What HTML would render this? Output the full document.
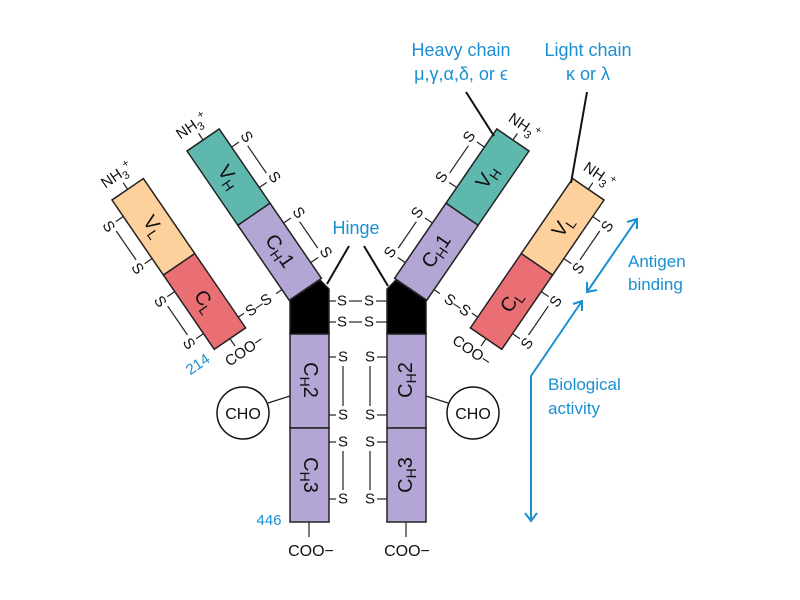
<!DOCTYPE html>
<html><head><meta charset="utf-8"><style>
html,body{margin:0;padding:0;background:#fff;}
svg{display:block;}
text{font-family:"Liberation Sans",sans-serif;fill:#111;}
.b{fill:#1a8fd2;}
.lab{font-size:20px;}
.s{font-size:15px;}
</style></head><body>
<svg width="800" height="600" viewBox="0 0 800 600" xmlns="http://www.w3.org/2000/svg">
<defs>
<g id="light">
  <rect x="0" y="0" width="38" height="91" fill="#fdd09c" stroke="#222" stroke-width="1.5"/>
  <rect x="0" y="91" width="38" height="90" fill="#ea6f74" stroke="#222" stroke-width="1.5"/>
  <g stroke="#222" stroke-width="1.2">
    <line x1="19" y1="0" x2="19" y2="-8"/>
    <line x1="19" y1="181" x2="19" y2="190"/>
    <line x1="0" y1="20" x2="-9" y2="20"/><line x1="0" y1="71" x2="-9" y2="71"/>
    <line x1="0" y1="111" x2="-9" y2="111"/><line x1="0" y1="162" x2="-9" y2="162"/>
    <line x1="-14" y1="28" x2="-14" y2="63"/><line x1="-14" y1="119" x2="-14" y2="154"/>
    <line x1="38" y1="168" x2="45" y2="168"/>
  </g>
</g>
<g id="heavy">
  <rect x="0" y="0" width="39" height="90" fill="#5fb8ad" stroke="#222" stroke-width="1.5"/>
  <rect x="0" y="90" width="39" height="91" fill="#b3a5d4" stroke="#222" stroke-width="1.5"/>
  <g stroke="#222" stroke-width="1.2">
    <line x1="19.5" y1="0" x2="19.5" y2="-8"/>
    <line x1="39" y1="22" x2="48" y2="22"/><line x1="39" y1="71" x2="48" y2="71"/>
    <line x1="39" y1="114" x2="48" y2="114"/><line x1="39" y1="162" x2="48" y2="162"/>
    <line x1="53" y1="30" x2="53" y2="63"/><line x1="53" y1="122" x2="53" y2="154"/>
    <line x1="0" y1="168" x2="-7" y2="168"/>
  </g>
</g>
</defs>

<!-- Left light chain -->
<g transform="translate(112,200) rotate(-34.4)">
  <use href="#light"/>
  <text class="lab" transform="translate(19,45) rotate(90)" text-anchor="middle" dominant-baseline="central">V<tspan font-size="14" dy="5">L</tspan></text>
  <text class="lab" transform="translate(19,136) rotate(90)" text-anchor="middle" dominant-baseline="central">C<tspan font-size="14" dy="5">L</tspan></text>
  <text class="s" transform="translate(-18,20) rotate(90)" text-anchor="middle" dominant-baseline="central">S</text>
  <text class="s" transform="translate(-18,71) rotate(90)" text-anchor="middle" dominant-baseline="central">S</text>
  <text class="s" transform="translate(-18,111) rotate(90)" text-anchor="middle" dominant-baseline="central">S</text>
  <text class="s" transform="translate(-18,162) rotate(90)" text-anchor="middle" dominant-baseline="central">S</text>
  <text font-size="15" x="18" y="-13" text-anchor="middle">NH<tspan font-size="11" dy="4">3</tspan><tspan font-size="11" dy="-10">+</tspan></text>
  <text font-size="15" x="24" y="204" text-anchor="middle">COO−</text>
  <text class="b" font-size="15" x="-22" y="189" text-anchor="middle">214</text>
</g>
<!-- Left heavy arm -->
<g transform="translate(187,151) rotate(-34.4)">
  <use href="#heavy"/>
  <text class="lab" transform="translate(19.5,45) rotate(90)" text-anchor="middle" dominant-baseline="central">V<tspan font-size="14" dy="5">H</tspan></text>
  <text class="lab" transform="translate(19.5,135) rotate(90)" text-anchor="middle" dominant-baseline="central">C<tspan font-size="14" dy="5">H</tspan><tspan dy="-5">1</tspan></text>
  <text class="s" transform="translate(57,22) rotate(90)" text-anchor="middle" dominant-baseline="central">S</text>
  <text class="s" transform="translate(57,71) rotate(90)" text-anchor="middle" dominant-baseline="central">S</text>
  <text class="s" transform="translate(57,114) rotate(90)" text-anchor="middle" dominant-baseline="central">S</text>
  <text class="s" transform="translate(57,162) rotate(90)" text-anchor="middle" dominant-baseline="central">S</text>
  <text class="s" x="-28" y="168" text-anchor="middle" dominant-baseline="central">S–S</text>
  <text font-size="15" x="18" y="-13" text-anchor="middle">NH<tspan font-size="11" dy="4">3</tspan><tspan font-size="11" dy="-10">+</tspan></text>
</g>

<!-- Right side mirrored -->
<g transform="translate(716,0) scale(-1,1)">
  <g transform="translate(112,200) rotate(-34.4)">
    <use href="#light"/>
    <text class="lab" transform="translate(19,45) scale(-1,1) rotate(-90)" text-anchor="middle" dominant-baseline="central">V<tspan font-size="14" dy="5">L</tspan></text>
    <text class="lab" transform="translate(19,136) scale(-1,1) rotate(-90)" text-anchor="middle" dominant-baseline="central">C<tspan font-size="14" dy="5">L</tspan></text>
    <text class="s" transform="translate(-18,20) scale(-1,1) rotate(-90)" text-anchor="middle" dominant-baseline="central">S</text>
    <text class="s" transform="translate(-18,71) scale(-1,1) rotate(-90)" text-anchor="middle" dominant-baseline="central">S</text>
    <text class="s" transform="translate(-18,111) scale(-1,1) rotate(-90)" text-anchor="middle" dominant-baseline="central">S</text>
    <text class="s" transform="translate(-18,162) scale(-1,1) rotate(-90)" text-anchor="middle" dominant-baseline="central">S</text>
    <text font-size="15" transform="translate(18,-13) scale(-1,1)" text-anchor="middle">NH<tspan font-size="11" dy="4">3</tspan><tspan font-size="11" dy="-10">+</tspan></text>
    <text font-size="15" transform="translate(24,204) scale(-1,1)" text-anchor="middle">COO−</text>
  </g>
  <g transform="translate(187,151) rotate(-34.4)">
    <use href="#heavy"/>
    <text class="lab" transform="translate(19.5,45) scale(-1,1) rotate(-90)" text-anchor="middle" dominant-baseline="central">V<tspan font-size="14" dy="5">H</tspan></text>
    <text class="lab" transform="translate(19.5,135) scale(-1,1) rotate(-90)" text-anchor="middle" dominant-baseline="central">C<tspan font-size="14" dy="5">H</tspan><tspan dy="-5">1</tspan></text>
    <text class="s" transform="translate(57,22) scale(-1,1) rotate(-90)" text-anchor="middle" dominant-baseline="central">S</text>
    <text class="s" transform="translate(57,71) scale(-1,1) rotate(-90)" text-anchor="middle" dominant-baseline="central">S</text>
    <text class="s" transform="translate(57,114) scale(-1,1) rotate(-90)" text-anchor="middle" dominant-baseline="central">S</text>
    <text class="s" transform="translate(57,162) scale(-1,1) rotate(-90)" text-anchor="middle" dominant-baseline="central">S</text>
    <text class="s" transform="translate(-28,168) scale(-1,1)" text-anchor="middle" dominant-baseline="central">S–S</text>
    <text font-size="15" transform="translate(18,-13) scale(-1,1)" text-anchor="middle">NH<tspan font-size="11" dy="4">3</tspan><tspan font-size="11" dy="-10">+</tspan></text>
  </g>
</g>

<!-- Stems -->
<g stroke="#222" stroke-width="1.5">
  <rect x="290" y="333" width="39" height="95" fill="#b3a5d4"/>
  <rect x="290" y="428" width="39" height="94" fill="#b3a5d4"/>
  <rect x="387" y="333" width="39" height="95" fill="#b3a5d4"/>
  <rect x="387" y="428" width="39" height="94" fill="#b3a5d4"/>
  <polygon points="290,300 320,280 329,289 329,334 290,334" fill="#000"/>
  <polygon points="426,300 396,280 387,289 387,334 426,334" fill="#000"/>
</g>
<text class="lab" transform="translate(310,380) rotate(90)" text-anchor="middle" dominant-baseline="central">C<tspan font-size="14" dy="5">H</tspan><tspan dy="-5">2</tspan></text>
<text class="lab" transform="translate(310,475) rotate(90)" text-anchor="middle" dominant-baseline="central">C<tspan font-size="14" dy="5">H</tspan><tspan dy="-5">3</tspan></text>
<text class="lab" transform="translate(406,380) rotate(-90)" text-anchor="middle" dominant-baseline="central">C<tspan font-size="14" dy="5">H</tspan><tspan dy="-5">2</tspan></text>
<text class="lab" transform="translate(406,475) rotate(-90)" text-anchor="middle" dominant-baseline="central">C<tspan font-size="14" dy="5">H</tspan><tspan dy="-5">3</tspan></text>

<!-- Hinge & stem disulfides -->
<g stroke="#222" stroke-width="1.2">
  <line x1="329" y1="301" x2="336" y2="301"/><line x1="349" y1="301" x2="362" y2="301"/><line x1="376" y1="301" x2="387" y2="301"/>
  <line x1="329" y1="322" x2="336" y2="322"/><line x1="349" y1="322" x2="362" y2="322"/><line x1="376" y1="322" x2="387" y2="322"/>
  <line x1="329" y1="357" x2="336" y2="357"/><line x1="329" y1="415" x2="336" y2="415"/>
  <line x1="329" y1="442" x2="336" y2="442"/><line x1="329" y1="499" x2="336" y2="499"/>
  <line x1="377" y1="357" x2="387" y2="357"/><line x1="377" y1="415" x2="387" y2="415"/>
  <line x1="377" y1="442" x2="387" y2="442"/><line x1="377" y1="499" x2="387" y2="499"/>
  <line x1="343" y1="366" x2="343" y2="406"/><line x1="343" y1="451" x2="343" y2="490"/>
  <line x1="370" y1="366" x2="370" y2="406"/><line x1="370" y1="451" x2="370" y2="490"/>
  <line x1="309" y1="522" x2="309" y2="537"/><line x1="406" y1="522" x2="406" y2="537"/>
  <line x1="268" y1="403" x2="290" y2="396"/><line x1="426" y1="396" x2="448" y2="403"/>
</g>
<g class="s" text-anchor="middle" dominant-baseline="central" font-size="15">
  <text x="342" y="301">S</text><text x="369" y="301">S</text>
  <text x="342" y="322">S</text><text x="369" y="322">S</text>
  <text x="343" y="357">S</text><text x="343" y="415">S</text>
  <text x="343" y="442">S</text><text x="343" y="499">S</text>
  <text x="370" y="357">S</text><text x="370" y="415">S</text>
  <text x="370" y="442">S</text><text x="370" y="499">S</text>
</g>
<circle cx="243" cy="413" r="26" fill="#fff" stroke="#111" stroke-width="1.5"/>
<circle cx="473" cy="413" r="26" fill="#fff" stroke="#111" stroke-width="1.5"/>
<text font-size="16" x="243" y="419" text-anchor="middle">CHO</text>
<text font-size="16" x="473" y="419" text-anchor="middle">CHO</text>
<text font-size="16" x="311" y="556" text-anchor="middle">COO−</text>
<text font-size="16" x="407" y="556" text-anchor="middle">COO−</text>
<text class="b" font-size="15" x="269" y="525" text-anchor="middle">446</text>

<!-- Hinge label -->
<text class="b" font-size="18" x="356" y="234" text-anchor="middle">Hinge</text>
<g stroke="#111" stroke-width="2">
  <line x1="349" y1="246" x2="327" y2="284"/>
  <line x1="364" y1="246" x2="388" y2="286"/>
  <line x1="466" y1="92" x2="494" y2="136"/>
  <line x1="587" y1="92" x2="571" y2="183"/>
</g>
<text class="b" font-size="18" x="461" y="56" text-anchor="middle">Heavy chain</text>
<text class="b" font-size="18" x="461" y="80" text-anchor="middle">μ,γ,α,δ, or ϵ</text>
<text class="b" font-size="18" x="588" y="56" text-anchor="middle">Light chain</text>
<text class="b" font-size="18" x="588" y="80" text-anchor="middle">κ or λ</text>

<!-- Right arrows -->
<g stroke="#1a8fd2" stroke-width="2" fill="none">
  <line x1="637" y1="219" x2="587" y2="292"/>
  <polyline points="627,222 637,219 637,229"/>
  <polyline points="587,282 587,292 597,290"/>
  <polyline points="582,301 531,376 531,521"/>
  <polyline points="573,304 582,301 582,311"/>
  <polyline points="525,513 531,521 537,513"/>
</g>
<text class="b" font-size="17" x="628" y="267">Antigen</text>
<text class="b" font-size="17" x="628" y="290">binding</text>
<text class="b" font-size="17" x="548" y="390">Biological</text>
<text class="b" font-size="17" x="548" y="414">activity</text>
</svg>
</body></html>
